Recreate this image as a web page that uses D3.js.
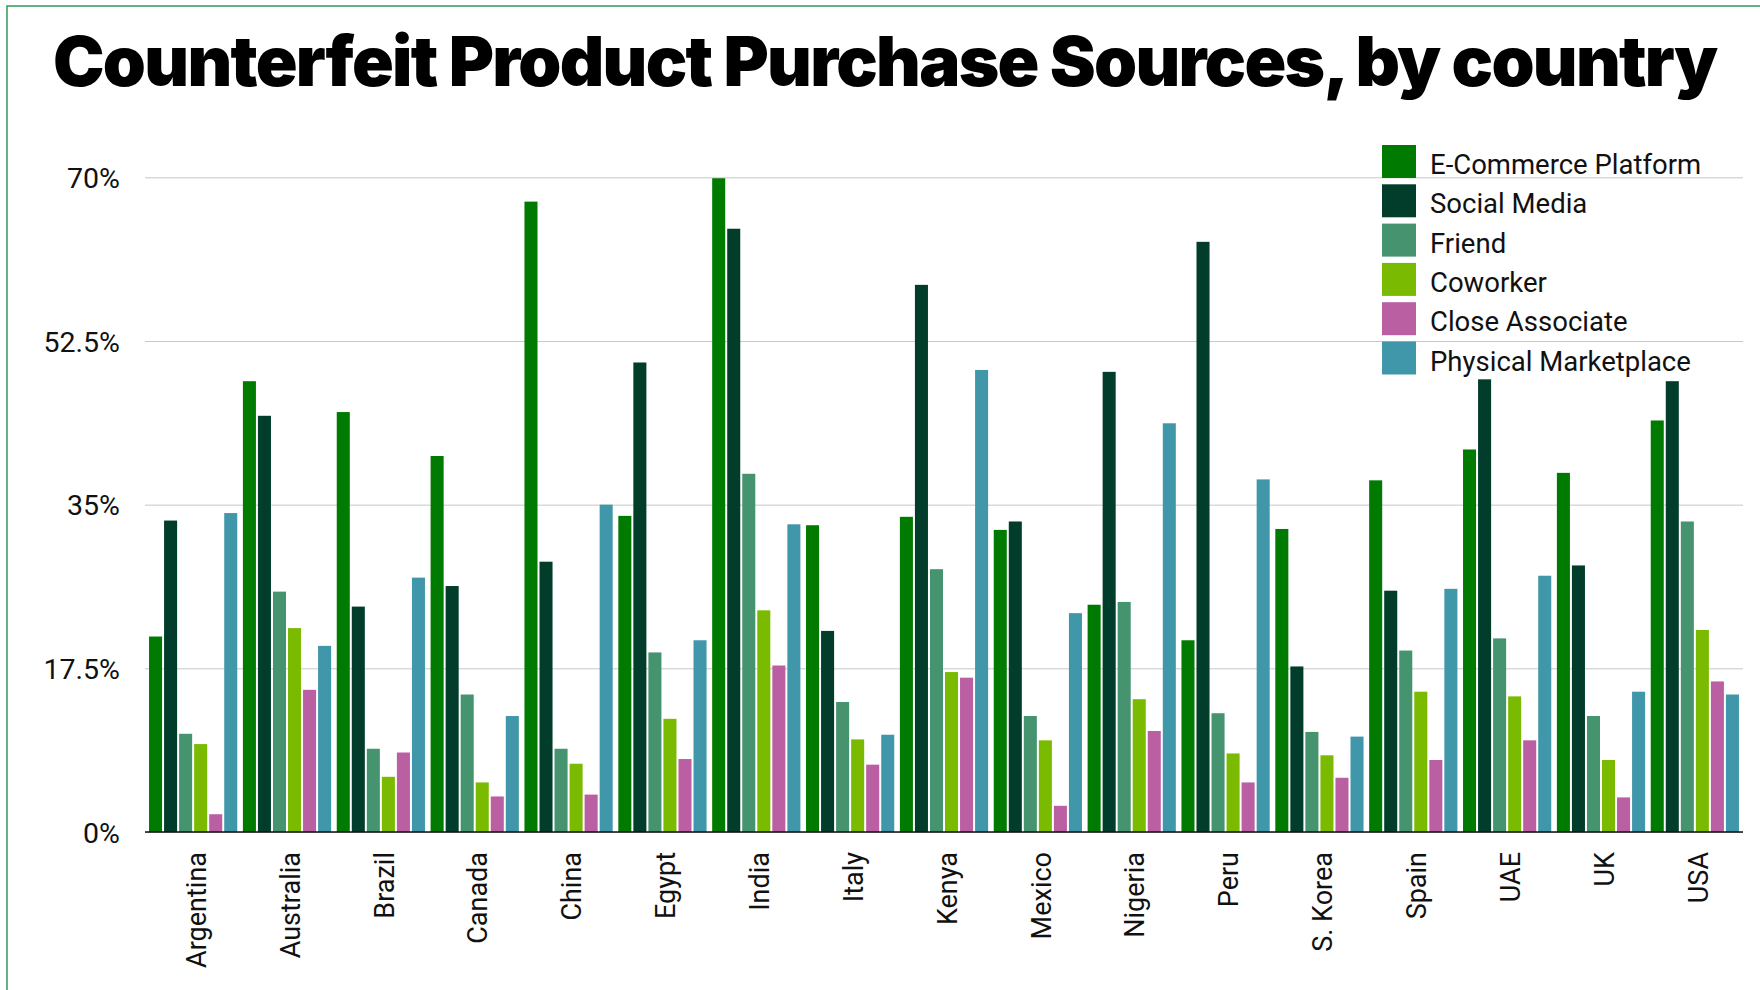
<!DOCTYPE html>
<html>
<head>
<meta charset="utf-8">
<script src="https://cdn.jsdelivr.net/npm/d3@7/dist/d3.min.js"></script>
<style>
  html, body { margin: 0; padding: 0; background: #fff; }
  svg { display: block; }
</style>
</head>
<body>
<svg id="chart" width="1760" height="990"></svg>
<script>
// Share of respondents (%) naming each source of counterfeit purchases
const countries = ["Argentina", "Australia", "Brazil", "Canada", "China", "Egypt", "India", "Italy", "Kenya",
  "Mexico", "Nigeria", "Peru", "S. Korea", "Spain", "UAE", "UK", "USA"];
const seriesNames = ["E-Commerce Platform", "Social Media", "Friend", "Coworker", "Close Associate", "Physical Marketplace"];
const ecommerce      = [20.9, 48.2, 44.9, 40.2, 67.4, 33.8, 69.9, 32.8, 33.7, 32.3, 24.3, 20.5, 32.4, 37.6, 40.9, 38.4, 44.0];
const socialMedia    = [33.3, 44.5, 24.1, 26.3, 28.9, 50.2, 64.5, 21.5, 58.5, 33.2, 49.2, 63.1, 17.7, 25.8, 48.4, 28.5, 48.2];
const friend         = [10.5, 25.7, 8.9, 14.7, 8.9, 19.2, 38.3, 13.9, 28.1, 12.4, 24.6, 12.7, 10.7, 19.4, 20.7, 12.4, 33.2];
const coworker       = [9.4, 21.8, 5.9, 5.3, 7.3, 12.1, 23.7, 9.9, 17.1, 9.8, 14.2, 8.4, 8.2, 15.0, 14.5, 7.7, 21.6];
const closeAssociate = [1.9, 15.2, 8.5, 3.8, 4.0, 7.8, 17.8, 7.2, 16.5, 2.8, 10.8, 5.3, 5.8, 7.7, 9.8, 3.7, 16.1];
const physical       = [34.1, 19.9, 27.2, 12.4, 35.0, 20.5, 32.9, 10.4, 49.4, 23.4, 43.7, 37.7, 10.2, 26.0, 27.4, 15.0, 14.7];
const tickValues = [0, 17.5, 35, 52.5, 70];
const tickLabels = ["0%", "17.5%", "35%", "52.5%", "70%"];
const title = "Counterfeit Product Purchase Sources, by country";

const seriesValues = [ecommerce, socialMedia, friend, coworker, closeAssociate, physical];
const colors = ["#007a00", "#013d2a", "#46936f", "#7aba00", "#bb5fa3", "#4197aa"];

const svg = d3.select("#chart");

// frame line along the top and left edges
svg.append("rect")
  .attr("x", 7).attr("y", 6)
  .attr("width", 1800).attr("height", 1000)
  .attr("fill", "none")
  .attr("stroke", "#2e9b58")
  .attr("stroke-width", 1.5);

// title, letter-spaced to span the full width
const titleText = svg.append("text")
  .attr("x", 53).attr("y", 86)
  .attr("font-family", "Inter, 'Liberation Sans', Arial, sans-serif")
  .attr("font-weight", 900)
  .attr("font-size", 69)
  .attr("fill", "#000")
  .text(title);
const targetW = 1665;
const measured = titleText.node().getComputedTextLength();
titleText.attr("letter-spacing", ((targetW - measured) / (title.length - 1)).toFixed(3));

const plotLeft = 145, plotRight = 1743, plotTop = 177.3, plotBottom = 832;

const y = d3.scaleLinear().domain([0, 70]).range([plotBottom, plotTop]);
const x0 = d3.scaleBand().domain(countries).range([plotLeft, plotRight]).paddingInner(0.06).paddingOuter(0.043);
const x1 = d3.scaleBand().domain(seriesNames).range([0, x0.bandwidth()]).paddingInner(0.133).paddingOuter(0);

// horizontal grid
const yAxis = d3.axisLeft(y)
  .tickValues(tickValues)
  .tickSize(-(plotRight - plotLeft))
  .tickFormat((d, i) => tickLabels[i]);
const gy = svg.append("g").attr("transform", `translate(${plotLeft},0)`).call(yAxis);
gy.select(".domain").remove();
gy.selectAll(".tick line").attr("stroke", "#c8c8c8").attr("stroke-width", 1);
gy.selectAll(".tick text")
  .attr("x", -25)
  .attr("dy", "0.36em")
  .attr("font-family", "Roboto, 'Liberation Sans', sans-serif")
  .attr("font-size", 28.5)
  .attr("fill", "#111");

// legend
const legend = svg.append("g").attr("transform", "translate(1382,145)");
seriesNames.forEach((name, i) => {
  const g = legend.append("g").attr("transform", `translate(0,${i * 39.3})`);
  g.append("rect").attr("width", 34).attr("height", 33).attr("fill", colors[i]);
  g.append("text")
    .attr("x", 48).attr("y", 29)
    .attr("font-family", "Roboto, 'Liberation Sans', sans-serif")
    .attr("font-size", 27.5)
    .attr("fill", "#111")
    .text(name);
});

// grouped bars
const groups = svg.append("g").selectAll("g")
  .data(countries)
  .join("g")
  .attr("transform", d => `translate(${x0(d)},0)`);
groups.selectAll("rect")
  .data((c, ci) => seriesNames.map((s, si) => ({ s, si, v: seriesValues[si][ci] })))
  .join("rect")
  .attr("x", d => x1(d.s))
  .attr("width", x1.bandwidth())
  .attr("y", d => y(d.v))
  .attr("height", d => y(0) - y(d.v))
  .attr("fill", d => colors[d.si]);

// baseline
svg.append("line")
  .attr("x1", plotLeft).attr("x2", plotRight)
  .attr("y1", plotBottom).attr("y2", plotBottom)
  .attr("stroke", "#111").attr("stroke-width", 1.5);

// rotated country labels
const xAxis = d3.axisBottom(x0).tickSize(0).tickPadding(0);
const gx = svg.append("g").attr("transform", `translate(0,${plotBottom})`).call(xAxis);
gx.select(".domain").remove();
gx.selectAll(".tick text")
  .attr("transform", "translate(3,20) rotate(-90)")
  .attr("x", 0).attr("y", 0)
  .attr("dy", "0.36em")
  .attr("text-anchor", "end")
  .attr("font-family", "Roboto, 'Liberation Sans', sans-serif")
  .attr("font-size", 27)
  .attr("fill", "#111");
</script>
</body>
</html>
